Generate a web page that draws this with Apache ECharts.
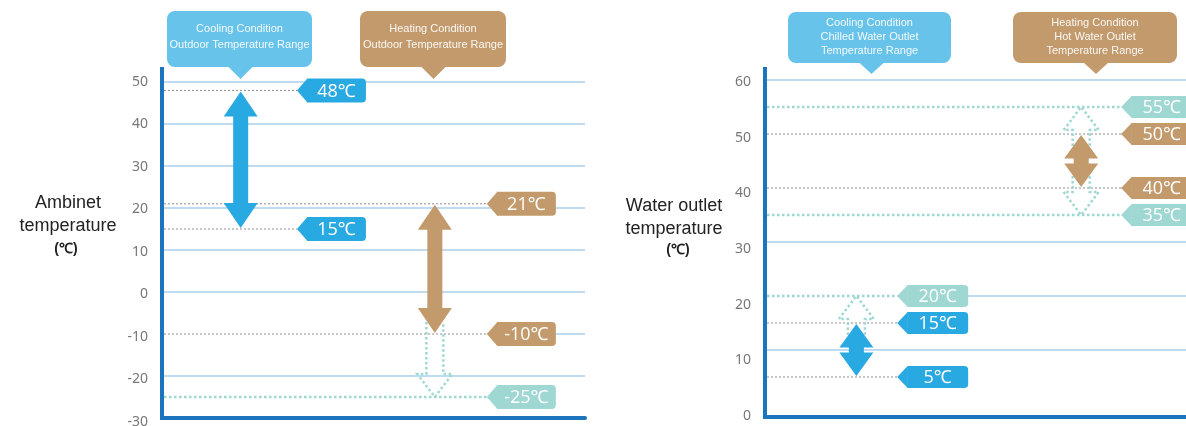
<!DOCTYPE html>
<html>
<head>
<meta charset="utf-8">
<title>Operating range</title>
<script src="https://cdn.jsdelivr.net/npm/echarts@6/dist/echarts.min.js"></script>
<style>
html, body { margin: 0; padding: 0; background: #fff; }
#chart { width: 1186px; height: 426px; }
</style>
</head>
<body>
<div id="chart"></div>
<script>
// axis ticks
const ambientTicks = [-30, -20, -10, 0, 10, 20, 30, 40, 50];
const waterTicks = [0, 10, 20, 30, 40, 50, 60];

// outdoor (ambient) temperature ranges, ℃
const ambientCooling = [48, 15];
const ambientHeating = [21, -10];
const ambientHeatingExt = [-25];

// water outlet temperature ranges, ℃
const waterCooling = [15, 5];
const waterCoolingExt = [20];
const waterHeating = [50, 40];
const waterHeatingExt = [55, 35];

const COLORS = { cool: '#29a9e1', heat: '#c29a6c', ext: '#9fd8d3', axis: '#1c75bc', grid: '#a9cfea' };

// layout of the two panels (x positions are fractions of the 0..100 hidden x axis)
const panels = [
    {
        ticks: ambientTicks, cool: ambientCooling, coolExt: [], heat: ambientHeating, heatExt: ambientHeatingExt,
        grid: { left: 162, top: 82, width: 423, height: 336 },
        coolX: 18.6, coolTag: 31.9, heatX: 64.5, heatTag: 76.8,
        tagW: 59, tagH: 24, axisTop: 15, axisBottom: 0,
        labelShift: v => (50 - v) / 20
    },
    {
        ticks: waterTicks, cool: waterCooling, coolExt: waterCoolingExt, heat: waterHeating, heatExt: waterHeatingExt,
        grid: { left: 765, top: 80, width: 425, height: 324 },
        coolX: 21.5, coolTag: 31.1, heatX: 74.4, heatTag: 83.8,
        tagW: 61, tagH: 22, axisTop: 13, axisBottom: 13,
        labelShift: v => 2 + (60 - v) / 6
    }
]

function columnItems(range, ext, xFrac, tagFrac, color) {
    const hi = Math.max(...range), lo = Math.min(...range)
    return {
        lines: range.map(v => ({ v, frac: tagFrac, dotted: false }))
            .concat(ext.map(v => ({ v, frac: tagFrac, dotted: true }))),
        tags: range.map(v => ({ v, frac: tagFrac, color }))
            .concat(ext.map(v => ({ v, frac: tagFrac, color: COLORS.ext }))),
        arrows: [{ frac: xFrac, v: hi, hi, lo, color }],
        outlines: ext.map(t => ({ frac: xFrac, v: t, tip: t, base: t > hi ? hi : lo }))
    }
}

function customSeries(gi, z, items, render) {
    return {
        type: 'custom', xAxisIndex: gi, yAxisIndex: gi, z, silent: true, animation: false, clip: false,
        data: items.map(it => [it.frac, it.v]),
        renderItem: (params, api) => render(items[params.dataIndex], params, api)
    }
}

function renderGridLine(it, params, api) {
    const cs = params.coordSys
    const y = api.coord([0, it.v])[1]
    return {
        type: 'line', shape: { x1: cs.x, y1: y, x2: cs.x + cs.width, y2: y },
        style: { stroke: COLORS.grid, lineWidth: 1.5 }
    }
}

function renderLine(it, params, api) {
    const y = api.coord([0, it.v])[1]
    const x0 = params.coordSys.x + 2
    const x1 = api.coord([it.frac, it.v])[0]
    const shape = { x1: x0, y1: y, x2: x1, y2: y }
    return {
        type: 'group', children: [
            { type: 'line', shape, style: { stroke: '#fff', lineWidth: 3 } },
            {
                type: 'line', shape, style: it.dotted
                    ? { stroke: COLORS.ext, lineWidth: 2.5, lineDash: [2.5, 2.5] }
                    : { stroke: '#8f8f8f', lineWidth: 1, lineDash: [2, 2] }
            }
        ]
    }
}

function renderArrow(it, params, api) {
    const top = api.coord([it.frac, it.hi])
    const cx = top[0]
    const yA = top[1] + 1
    const yB = api.coord([it.frac, it.lo])[1] - 1
    const hh = Math.min(25, (yB - yA) / 2 - 2.5), hw = 17, sw = 7.5
    const points = [
        [cx, yA], [cx + hw, yA + hh], [cx + sw, yA + hh], [cx + sw, yB - hh], [cx + hw, yB - hh],
        [cx, yB], [cx - hw, yB - hh], [cx - sw, yB - hh], [cx - sw, yA + hh], [cx - hw, yA + hh]
    ]
    return { type: 'polygon', shape: { points }, style: { fill: it.color } }
}

function renderOutline(it, params, api) {
    const tip = api.coord([it.frac, it.tip])
    const cx = tip[0], yT = tip[1]
    const yBase = api.coord([it.frac, it.base])[1]
    const dir = yT > yBase ? 1 : -1
    const yS = yBase - dir * 12, yH = yT - dir * 23
    const points = [[cx - 8.5, yS], [cx - 8.5, yH], [cx - 17.5, yH], [cx, yT], [cx + 17.5, yH], [cx + 8.5, yH], [cx + 8.5, yS]]
    return {
        type: 'polyline', shape: { points },
        style: { stroke: COLORS.ext, lineWidth: 2.5, lineDash: [2.5, 2.5], fill: null }
    }
}

function makeTagRender(p) {
    return function (it, params, api) {
        const c = api.coord([it.frac, it.v])
        const x = c[0], y = c[1], h = p.tagH, w = p.tagW, pt = 10
        return {
            type: 'group', children: [
                { type: 'polygon', shape: { points: [[x, y], [x + pt + 0.5, y - h / 2], [x + pt + 0.5, y + h / 2]] }, style: { fill: it.color } },
                { type: 'rect', shape: { x: x + pt, y: y - h / 2, width: w, height: h, r: [0, 4, 4, 0] }, style: { fill: it.color } },
                {
                    type: 'text', x: x + pt + w / 2, y: y + 1,
                    style: {
                        text: it.v + '℃', fill: '#fff', font: '18px "Open Sans", "Noto Sans", sans-serif',
                        align: 'center', verticalAlign: 'middle', textAlign: 'center', textVerticalAlign: 'middle'
                    }
                }
            ]
        }
    }
}

function makeFrameRender(p) {
    return function (it, params, api) {
        const cs = params.coordSys
        return {
            type: 'line',
            shape: { x1: cs.x, y1: cs.y - p.axisTop, x2: cs.x, y2: cs.y + cs.height + p.axisBottom + 2 },
            style: { stroke: COLORS.axis, lineWidth: 4 }
        }
    }
}

const grids = [], xAxes = [], yAxes = [], series = []

panels.forEach((p, gi) => {
    grids.push(Object.assign({ containLabel: false, outerBoundsMode: 'none' }, p.grid))
    xAxes.push({
        gridIndex: gi, type: 'value', min: 0, max: 100, offset: p.axisBottom,
        axisLine: { show: true, onZero: false, lineStyle: { color: COLORS.axis, width: 4 } },
        axisTick: { show: false }, axisLabel: { show: false }, splitLine: { show: false }
    })
    const rich = {}
    p.ticks.forEach((t, i) => {
        rich['t' + i] = {
            padding: [p.labelShift(t) * 2, 0, 0, 0],
            color: '#777', fontSize: 14, fontFamily: '"Noto Sans", sans-serif'
        }
    })
    yAxes.push({
        gridIndex: gi, type: 'value',
        min: p.ticks[0], max: p.ticks[p.ticks.length - 1], interval: p.ticks[1] - p.ticks[0],
        axisLine: { show: false }, axisTick: { show: false },
        axisLabel: {
            margin: 14, color: '#777', fontSize: 14, fontFamily: '"Noto Sans", sans-serif',
            formatter: v => '{t' + p.ticks.indexOf(v) + '|' + v + '}', rich
        },
        splitLine: { show: false }
    })

    const cool = columnItems(p.cool, p.coolExt, p.coolX, p.coolTag, COLORS.cool)
    const heat = columnItems(p.heat, p.heatExt, p.heatX, p.heatTag, COLORS.heat)
    // grid lines for every tick above the bottom axis
    series.push(customSeries(gi, 1, p.ticks.slice(1).map(v => ({ frac: 0, v })), renderGridLine))
    series.push(customSeries(gi, 2, cool.lines.concat(heat.lines), renderLine))
    series.push(customSeries(gi, 3, cool.outlines.concat(heat.outlines), renderOutline))
    series.push(customSeries(gi, 4, cool.arrows.concat(heat.arrows), renderArrow))
    series.push(customSeries(gi, 5, cool.tags.concat(heat.tags), makeTagRender(p)))
    series.push(customSeries(gi, 6, [{ frac: 0, v: p.ticks[0] }], makeFrameRender(p)))
})

function callout(cx, top, w, h, tipX, tipY, textY, color, text, lineH) {
    return {
        type: 'group', children: [
            { type: 'rect', shape: { x: cx - w / 2, y: top, width: w, height: h, r: 8 }, style: { fill: color } },
            { type: 'polygon', shape: { points: [[tipX - 13, top + h - 1], [tipX + 13, top + h - 1], [tipX, tipY]] }, style: { fill: color } },
            {
                type: 'text', x: cx, y: textY,
                style: {
                    text, fill: 'rgba(255,255,255,0.92)', font: '11px "Liberation Sans", Arial, sans-serif', lineHeight: lineH,
                    align: 'center', verticalAlign: 'middle', textAlign: 'center', textVerticalAlign: 'middle'
                }
            }
        ]
    }
}

function label(x, y, text, font) {
    return {
        type: 'text', x, y,
        style: {
            text, fill: '#222', font,
            align: 'center', verticalAlign: 'middle', textAlign: 'center', textVerticalAlign: 'middle'
        }
    }
}

const titleFont = '18px "Liberation Sans", Arial, sans-serif'
const unitFont = 'bold 14px "Liberation Sans", Arial, sans-serif'

const option = {
    animation: false,
    grid: grids,
    xAxis: xAxes,
    yAxis: yAxes,
    series,
    graphic: {
        elements: [
            callout(239.5, 11, 145, 56, 240.5, 79, 37, '#67c3ea', 'Cooling Condition\nOutdoor Temperature Range', 16),
            callout(433, 11, 146, 56, 433.5, 79, 37, COLORS.heat, 'Heating Condition\nOutdoor Temperature Range', 16),
            callout(869.5, 12, 163, 51, 871.5, 74, 37, '#67c3ea', 'Cooling Condition\nChilled Water Outlet\nTemperature Range', 14),
            callout(1095, 12, 164, 51, 1096, 74, 37, COLORS.heat, 'Heating Condition\nHot Water Outlet\nTemperature Range', 14),
            label(68, 203, 'Ambinet', titleFont),
            label(68, 226, 'temperature', titleFont),
            label(66, 249, '(℃)', unitFont),
            label(674, 206, 'Water outlet', titleFont),
            label(674, 229, 'temperature', titleFont),
            label(678, 250, '(℃)', unitFont)
        ]
    }
}

const myChart = echarts.init(document.getElementById('chart'))
myChart.setOption(option)
</script>
</body>
</html>
